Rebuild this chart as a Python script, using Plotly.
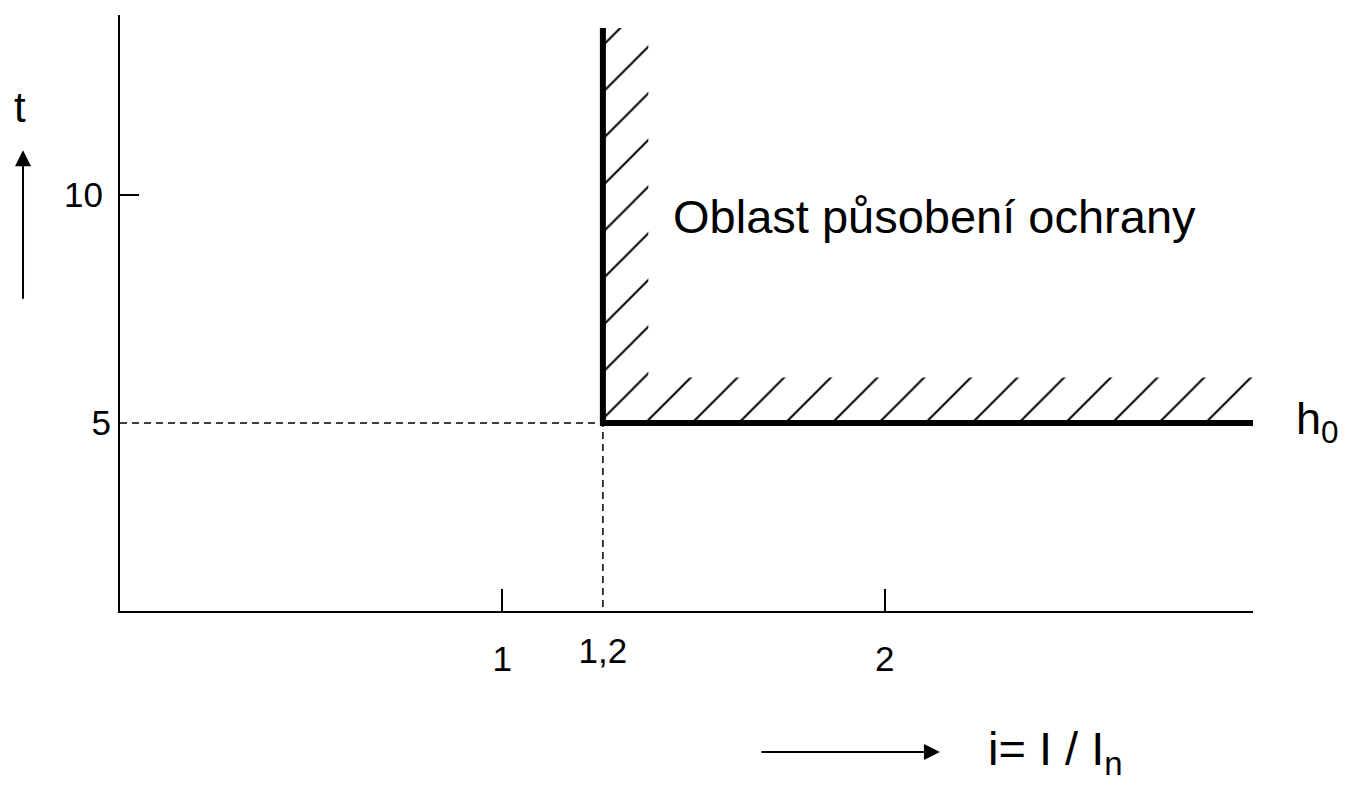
import math
import plotly.graph_objects as go

# ---- data (schematic protection characteristic) ----
i_pickup = 1.2          # i = I / In threshold
t_pickup = 5            # time threshold
i_end = 3.92            # end of drawn characteristic
t_top = 13.66           # top of vertical branch
hatch_i_right = 1.303   # hatch strip width (vertical branch)
hatch_t_top = 6         # hatch strip height (horizontal branch)
hatch_i_end = 3.98

x_range = [0.5, 3.9]
y_range = [0.877, 13.947]
x_ticks = [1, 2]
x_ticktext = ["1", "2"]
x_ticks2 = [1.2]
x_ticktext2 = ["1,2"]
y_ticks = [10]
y_ticktext = ["10"]
y_ticks2 = [5]
y_ticktext2 = ["5"]

FONT = "Liberation Sans, Arial, sans-serif"

fig = go.Figure()

# hatched strip along the characteristic
fig.add_trace(go.Scatter(
    x=[i_pickup, hatch_i_end, hatch_i_end, hatch_i_right, hatch_i_right, i_pickup, i_pickup],
    y=[t_pickup, t_pickup, hatch_t_top, hatch_t_top, t_top, t_top, t_pickup],
    mode="lines", line=dict(width=0, color="rgba(0,0,0,0)"),
    fill="toself", fillcolor="white",
    fillpattern=dict(shape="/", size=33, solidity=0.06, fgcolor="black", fgopacity=1,
                     bgcolor="white"),
    hoverinfo="skip", cliponaxis=False,
))

# dashed guide lines
fig.add_trace(go.Scatter(
    x=[x_range[0], i_pickup, i_pickup],
    y=[t_pickup, t_pickup, y_range[0]],
    mode="lines", line=dict(color="black", width=1.5, dash="7px,5px"),
    xaxis="x2", yaxis="y2", hoverinfo="skip",
))

# thick characteristic
fig.add_trace(go.Scatter(
    x=[i_pickup, i_pickup, i_end],
    y=[t_top, t_pickup, t_pickup],
    mode="lines", line=dict(color="black", width=6),
    hoverinfo="skip", cliponaxis=False,
))

ax_common = dict(showgrid=False, zeroline=False)

fig.update_layout(
    width=1348, height=778,
    margin=dict(l=112, r=103, t=7, b=175),
    plot_bgcolor="white", paper_bgcolor="white",
    showlegend=False,
    font=dict(family=FONT, color="black", size=36),
    xaxis=dict(type="log", range=[math.log10(x_range[0]), math.log10(x_range[1])],
               tickvals=x_ticks, ticktext=x_ticktext, ticks="inside", ticklen=22,
               tickwidth=2, tickcolor="black", showline=True, linecolor="black", linewidth=2,
               tickfont=dict(size=35), ticklabelstandoff=16, **ax_common),
    xaxis2=dict(type="log", range=[math.log10(x_range[0]), math.log10(x_range[1])],
                overlaying="x", anchor="y2", side="bottom",
                tickvals=x_ticks2, ticktext=x_ticktext2, ticks="", showline=False,
                tickfont=dict(size=35), ticklabelstandoff=16, **ax_common),
    yaxis=dict(range=y_range, tickvals=y_ticks, ticktext=y_ticktext, ticks="inside", ticklen=19,
               tickwidth=2, tickcolor="black", showline=True, linecolor="black", linewidth=2,
               tickfont=dict(size=35), ticklabelstandoff=8, **ax_common),
    yaxis2=dict(range=y_range, overlaying="y", anchor="x2", side="left",
                tickvals=y_ticks2, ticktext=y_ticktext2, ticks="", showline=False,
                tickfont=dict(size=35), ticklabelstandoff=8, **ax_common),
)

# region label
fig.add_annotation(text="Oblast působení ochrany", xref="paper", yref="paper",
                   x=0.486, y=0.662, xanchor="left", yanchor="middle", showarrow=False,
                   font=dict(size=47))
# h0 label
fig.add_annotation(text="h<sub>0</sub>", xref="paper", yref="paper",
                   x=1.036, y=0.318, xanchor="left", yanchor="middle", showarrow=False,
                   font=dict(size=45))
# t axis label and arrow
fig.add_annotation(text="t", xref="paper", yref="paper",
                   x=-0.088, y=0.845, xanchor="center", yanchor="middle", showarrow=False,
                   font=dict(size=42))
fig.add_annotation(text="", xref="paper", yref="paper", x=-0.0856, y=0.773,
                   ax=0, ay=150, showarrow=True, arrowhead=2, arrowsize=1.6,
                   arrowwidth=2, arrowcolor="black")
# i axis label and arrow
fig.add_annotation(text="i= I / I<sub>n</sub>", xref="paper", yref="paper",
                   x=0.764, y=-0.236, xanchor="left", yanchor="middle", showarrow=False,
                   font=dict(size=47))
fig.add_annotation(text="", xref="paper", yref="paper", x=0.7237, y=-0.2366,
                   ax=-180, ay=0, showarrow=True, arrowhead=2, arrowsize=1.6,
                   arrowwidth=2, arrowcolor="black")

fig.write_html("out.html")
